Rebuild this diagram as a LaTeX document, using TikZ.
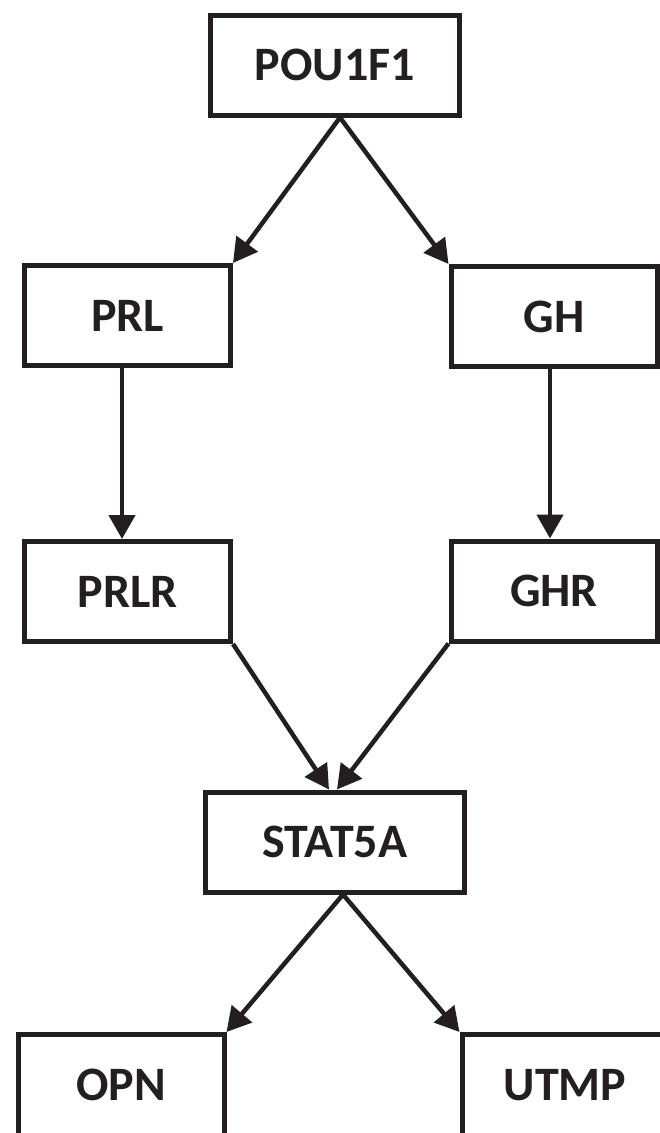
\documentclass[tikz,border=0pt]{standalone}
\usepackage{fontspec}
\setmainfont{Carlito}
\usepackage{xcolor}
\definecolor{ink}{RGB}{35,31,32}
\usetikzlibrary{arrows.meta}

\begin{document}
\begin{tikzpicture}[x=1pt,y=-1pt,font=\bfseries\fontsize{48}{52}\selectfont,
    gene/.style={draw=ink, text=ink, line width=5pt, minimum width=206pt, minimum height=100pt, inner sep=0pt},
    cutgene/.style={gene, minimum height=112pt, text depth=12pt},
    link/.style={draw=ink, line width=4.5pt, -{Triangle[length=24pt,width=26pt]}}]

    \useasboundingbox (0,0) rectangle (660,1133);
    \clip (0,0) rectangle (660,1133);

    \node[gene, minimum width=249pt] (pou) at (335,65) {POU1F1};
    \node[gene] (prl) at (127.5,315.5) {PRL};
    \node[gene] (gh) at (554,316.5) {GH};
    \node[gene] (prlr) at (127.5,591.5) {PRLR};
    \node[gene] (ghr) at (554,591) {GHR};
    \node[gene, minimum width=259pt] (stat) at (335,842) {STAT5A};
    \node[cutgene] (opn) at (121,1090.5) {OPN};
    \node[cutgene] (utmp) at (565,1090.5) {UTMP};

    \draw[link] ([xshift=5pt]pou.south) -- (prl.north east);
    \draw[link] ([xshift=5pt]pou.south) -- (gh.north west);
    \draw[link] ([xshift=-5.5pt]prl.south) -- ([xshift=-5.5pt]prlr.north);
    \draw[link] ([xshift=-4pt]gh.south) -- ([xshift=-4pt]ghr.north);
    \draw[link] (prlr.south east) -- ([xshift=-6pt]stat.north);
    \draw[link] (ghr.south west) -- ([xshift=2pt]stat.north);
    \draw[link] ([xshift=8pt]stat.south) -- (opn.north east);
    \draw[link] ([xshift=8pt]stat.south) -- (utmp.north west);
    %
\end{tikzpicture}
\end{document}
